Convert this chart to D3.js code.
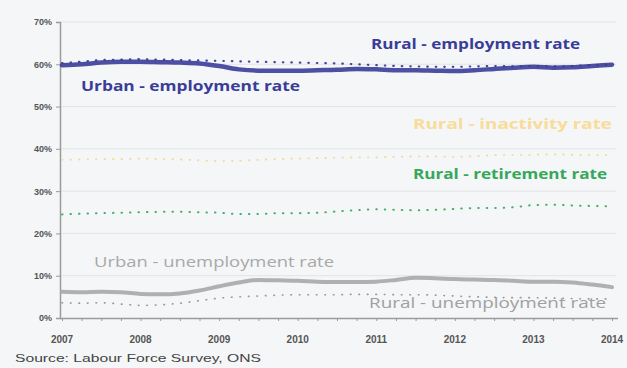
<!DOCTYPE html>
<html>
<head>
<meta charset="utf-8">
<script src="https://cdn.jsdelivr.net/npm/d3@7"></script>
<style>
  html, body { margin: 0; padding: 0; background: #f4f6f7; }
  svg { display: block; }
</style>
</head>
<body>
<svg id="chart" width="627" height="368"></svg>
<script>
// quarterly points, 2007 Q1 .. 2014 Q1
var quarters = d3.range(29).map(function (i) { return 2007 + i / 4; });
var yearTicks = [2007, 2008, 2009, 2010, 2011, 2012, 2013, 2014];
var pctTicks = [0, 10, 20, 30, 40, 50, 60, 70];

var urbanEmployment = [59.8, 60.0, 60.4, 60.6, 60.6, 60.5, 60.4, 60.2, 59.6, 58.8, 58.5, 58.5,
  58.5, 58.6, 58.7, 58.9, 58.8, 58.6, 58.6, 58.5, 58.4, 58.6, 58.9, 59.2, 59.4, 59.2, 59.3, 59.6, 59.9];
var ruralEmployment = [60.3, 60.6, 61.0, 61.1, 61.2, 61.1, 61.0, 60.9, 60.8, 60.7, 60.6, 60.5,
  60.4, 60.3, 60.2, 60.0, 59.8, 59.6, 59.5, 59.4, 59.4, 59.5, 59.6, 59.5, 59.6, 59.5, 59.6, 59.8, 59.9];
var ruralInactivity = [37.4, 37.5, 37.6, 37.6, 37.7, 37.6, 37.5, 37.3, 37.1, 37.2, 37.4, 37.6,
  37.7, 37.8, 37.9, 38.0, 38.0, 38.1, 38.2, 38.2, 38.1, 38.3, 38.5, 38.6, 38.6, 38.7, 38.6, 38.5, 38.5];
var ruralRetirement = [24.5, 24.7, 24.8, 24.9, 25.0, 25.1, 25.1, 25.0, 24.9, 24.6, 24.6, 24.8,
  24.8, 24.9, 25.2, 25.5, 25.7, 25.6, 25.5, 25.6, 25.8, 26.0, 26.0, 26.2, 26.7, 26.8, 26.6, 26.5, 26.4];
var urbanUnemployment = [6.2, 6.1, 6.2, 6.1, 5.7, 5.6, 5.8, 6.5, 7.5, 8.4, 9.0, 8.9,
  8.8, 8.6, 8.5, 8.5, 8.6, 9.0, 9.5, 9.4, 9.2, 9.1, 9.0, 8.8, 8.6, 8.6, 8.4, 7.9, 7.3];
var ruralUnemployment = [3.6, 3.5, 3.6, 3.3, 3.0, 3.1, 3.5, 4.1, 4.7, 5.0, 5.2, 5.4,
  5.5, 5.5, 5.5, 5.6, 5.6, 5.5, 5.5, 5.4, 5.2, 5.0, 4.9, 4.8, 4.8, 4.7, 4.6, 4.5, 4.5];

var series = [
  { name: "Rural - inactivity rate", values: ruralInactivity, color: "#f3d98a", width: 1.8, dotted: true },
  { name: "Rural - retirement rate", values: ruralRetirement, color: "#3daa5e", width: 2, dotted: true },
  { name: "Rural - unemployment rate", values: ruralUnemployment, color: "#949494", width: 1.7, dotted: true },
  { name: "Urban - unemployment rate", values: urbanUnemployment, color: "#a9a9a9", width: 4, dotted: false },
  { name: "Urban - employment rate", values: urbanEmployment, color: "#3a3d98", width: 4.5, dotted: false },
  { name: "Rural - employment rate", values: ruralEmployment, color: "#3a3d98", width: 2.2, dotted: true }
];

// label baselines given in data units so they sit on the y scale
var labels = [
  { text: "Rural - employment rate", v: 63.6, x0: 371, x1: 580, color: "#3a3d98", bold: true },
  { text: "Urban - employment rate", v: 53.6, x0: 81, x1: 300, color: "#3a3d98", bold: true },
  { text: "Rural - inactivity rate", v: 44.6, x0: 413, x1: 612, color: "#f8dc9a", bold: true },
  { text: "Rural - retirement rate", v: 32.8, x0: 413, x1: 607, color: "#35a85a", bold: true },
  { text: "Urban - unemployment rate", v: 12.0, x0: 94, x1: 334, color: "#a8a8a8", bold: false },
  { text: "Rural - unemployment rate", v: 2.3, x0: 369, x1: 606, color: "#a0a0a0", bold: false }
];

var svg = d3.select("#chart");
var x = d3.scaleLinear().domain([2007, 2014]).range([62, 612]);
var y = d3.scaleLinear().domain([0, 70]).range([318, 22]);

// gridlines
svg.append("g").selectAll("line").data(pctTicks.slice(1)).join("line")
  .attr("x1", 61).attr("x2", 616)
  .attr("y1", function (d) { return y(d); }).attr("y2", function (d) { return y(d); })
  .attr("stroke", "#e2e4e6").attr("stroke-width", 1);

// y axis
var yAxis = svg.append("g").attr("transform", "translate(60,0)")
  .call(d3.axisLeft(y).tickValues(pctTicks).tickFormat(function (d) { return d + "%"; }).tickSize(4).tickPadding(6));
yAxis.select(".domain").attr("stroke", "#9b9b9b").attr("stroke-width", 1.5);
yAxis.selectAll(".tick line").attr("stroke", "#9b9b9b");
yAxis.selectAll("text").attr("font-family", "Liberation Sans, Arial, sans-serif")
  .attr("font-size", 9).attr("fill", "#555").attr("font-weight", "bold").attr("dx", 2);

// x axis
var xAxis = svg.append("g").attr("transform", "translate(0,318)")
  .call(d3.axisBottom(x).tickValues(quarters).tickFormat("").tickSizeOuter(0).tickSize(3));
xAxis.select(".domain").attr("stroke", "#9b9b9b").attr("stroke-width", 1.5)
  .attr("d", "M60,0.5H618");
xAxis.selectAll(".tick line").attr("stroke", "#9b9b9b");

svg.append("g").selectAll("text").data(yearTicks).join("text")
  .attr("x", function (d) { return x(d); })
  .attr("y", 343)
  .attr("text-anchor", "middle")
  .attr("font-family", "Liberation Sans, Arial, sans-serif")
  .attr("font-size", 10).attr("font-weight", "bold").attr("fill", "#555")
  .text(function (d) { return d; });

// lines
var line = d3.line()
  .x(function (d, i) { return x(quarters[i]); })
  .y(function (d) { return y(d); })
  .curve(d3.curveMonotoneX);

svg.append("g").selectAll("path").data(series).join("path")
  .attr("d", function (s) { return line(s.values); })
  .attr("fill", "none")
  .attr("stroke", function (s) { return s.color; })
  .attr("stroke-width", function (s) { return s.width; })
  .attr("stroke-linecap", "round")
  .attr("stroke-dasharray", function (s) { return s.dotted ? "0.5,8" : null; })
  .attr("opacity", function (s) { return s.dotted ? 0.95 : 0.9; });

// series labels
svg.append("g").selectAll("text").data(labels).join("text")
  .attr("x", function (d) { return d.x0; })
  .attr("y", function (d) { return y(d.v); })
  .attr("textLength", function (d) { return d.x1 - d.x0; })
  .attr("lengthAdjust", "spacingAndGlyphs")
  .attr("font-family", "Open Sans, Liberation Sans, sans-serif")
  .attr("font-size", 15)
  .attr("font-weight", function (d) { return d.bold ? "bold" : "normal"; })
  .attr("fill", function (d) { return d.color; })
  .text(function (d) { return d.text; });

svg.append("text")
  .attr("x", 15).attr("y", 362)
  .attr("textLength", 246).attr("lengthAdjust", "spacingAndGlyphs")
  .attr("font-family", "Liberation Sans, Arial, sans-serif")
  .attr("font-size", 11).attr("fill", "#444")
  .text("Source: Labour Force Survey, ONS");
</script>
</body>
</html>
